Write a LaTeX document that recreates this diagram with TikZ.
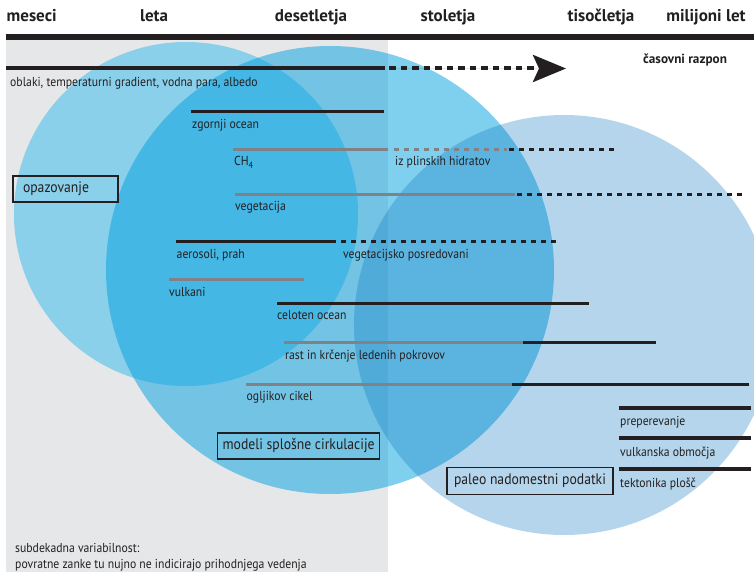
\documentclass[tikz,border=0pt]{standalone}
\usepackage{fontspec}
\setmainfont{PT Sans}
\newfontfamily\labfont[FakeStretch=0.9]{PT Sans}
\usetikzlibrary{arrows.meta}
\definecolor{bggray}{RGB}{230,231,232}
\definecolor{ink}{RGB}{35,31,32}
\definecolor{midgray}{RGB}{128,130,133}
\definecolor{cyanA}{RGB}{0,174,239}
\definecolor{cyanB}{RGB}{0,160,225}
\definecolor{blueC}{RGB}{8,118,192}
\begin{document}
\begin{tikzpicture}[x=1pt,y=-1pt,
  lab/.style={anchor=base west, inner sep=0pt, text=ink, font=\labfont\fontsize{13}{15}\selectfont},
  hdr/.style={anchor=base, inner sep=0pt, text=ink, font=\bfseries\fontsize{17}{20}\selectfont},
  boxlab/.style={draw=ink, line width=1.2pt, inner xsep=5pt, inner ysep=0pt, text=ink, font=\labfont\fontsize{15.2}{17}\selectfont},
  bar/.style={line width=3.5pt, draw=ink},
  gbar/.style={line width=3.5pt, draw=midgray},
  dbar/.style={line width=3.5pt, draw=ink, dash pattern=on 5pt off 5pt},
  gdbar/.style={line width=3.5pt, draw=midgray, dash pattern=on 5pt off 5pt},
  circA/.style={fill=cyanA, fill opacity=0.40},
  circB/.style={fill=cyanB, fill opacity=0.50},
  circC/.style={fill=blueC, fill opacity=0.30}
]
\useasboundingbox (0,0) rectangle (754,572);
% background
\fill[white] (0,0) rectangle (754,572);
\fill[bggray] (5.5,40) rectangle (388,572);
% circles
\fill[circA] (186,214) circle[radius=172pt];
\fill[circB] (330,270) circle[radius=224pt];
\fill[circC] (564,325) circle[radius=210pt];
% top axis
\coordinate (t0) at (5.5,37);
\coordinate (t1) at (754,37);
\draw[line width=6pt, ink] (t0) -- (t1);
% headers
\node[hdr, anchor=base west] (h1) at (6.5,22) {meseci};
\node[hdr] (h2) at (154,22) {leta};
\node[hdr] (h3) at (311,22) {desetletja};
\node[hdr] (h4) at (448,22) {stoletja};
\node[hdr] (h5) at (601,22) {tisočletja};
\node[hdr] (h6) at (706,22) {milijoni let};
\node[anchor=base west, inner sep=0pt, text=ink, font=\bfseries\fontsize{13.2}{15}\selectfont] (cr) at (643,64) {časovni razpon};
% row: oblaki
\coordinate (r1a) at (6,68.5);
\coordinate (r1b) at (385,68.5);
\coordinate (r1c) at (389,68.5);
\coordinate (r1d) at (566,68.5);
\draw[bar, line width=4pt] (r1a) -- (r1b);
\draw[line width=4pt, draw=ink, fill=ink, dash pattern=on 6.5pt off 5pt, -{Stealth[length=33pt,width=27pt,inset=6pt]}] (r1c) -- (r1d);
\node[lab] (l1) at (10,86.5) {oblaki, temperaturni gradient, vodna para, albedo};
% zgornji ocean
\coordinate (r2a) at (191,111.3);
\coordinate (r2b) at (384,111.3);
\draw[bar, line width=3pt] (r2a) -- (r2b);
\node[lab] (l2) at (192,128.5) {zgornji ocean};
% CH4
\coordinate (r3a) at (233,149.7);
\coordinate (r3b) at (388,149.7);
\coordinate (r3c) at (394,149.7);
\coordinate (r3d) at (507,149.7);
\coordinate (r3e) at (509,149.7);
\coordinate (r3f) at (618,149.7);
\draw[gbar] (r3a) -- (r3b);
\draw[gdbar] (r3c) -- (r3d);
\draw[dbar] (r3e) -- (r3f);
\node[lab] (l3) at (234,166) {CH\textsubscript{4}};
\node[lab] (l3b) at (395,165.5) {iz plinskih hidratov};
% vegetacija
\coordinate (r4a) at (235,194.7);
\coordinate (r4b) at (515,194.7);
\coordinate (r4c) at (517,194.7);
\coordinate (r4d) at (746,194.7);
\draw[gbar] (r4a) -- (r4b);
\draw[dbar] (r4c) -- (r4d);
\node[lab] (l4) at (235,210.5) {vegetacija};
% aerosoli
\coordinate (r5a) at (176,241.3);
\coordinate (r5b) at (336,241.3);
\coordinate (r5c) at (341,241.3);
\coordinate (r5d) at (557,241.3);
\draw[bar] (r5a) -- (r5b);
\draw[dbar] (r5c) -- (r5d);
\node[lab] (l5) at (176.5,258) {aerosoli, prah};
\node[lab] (l5b) at (343,258) {vegetacijsko posredovani};
% vulkani
\coordinate (r6a) at (169,279.7);
\coordinate (r6b) at (304,279.7);
\draw[gbar] (r6a) -- (r6b);
\node[lab] (l6) at (169,296) {vulkani};
% celoten ocean
\coordinate (r7a) at (277,303.3);
\coordinate (r7b) at (589,303.3);
\draw[bar] (r7a) -- (r7b);
\node[lab] (l7) at (277,319.5) {celoten ocean};
% rast in krcenje
\coordinate (r8a) at (284,342.6);
\coordinate (r8b) at (523,342.6);
\coordinate (r8c) at (656,342.6);
\draw[gbar] (r8a) -- (r8b);
\draw[bar] (r8b) -- (r8c);
\node[lab] (l8) at (285,359.5) {rast in krčenje ledenih pokrovov};
% ogljikov cikel
\coordinate (r9a) at (246,384.4);
\coordinate (r9b) at (512,384.4);
\coordinate (r9c) at (749,384.4);
\draw[gbar] (r9a) -- (r9b);
\draw[bar] (r9b) -- (r9c);
\node[lab] (l9) at (246.5,400.5) {ogljikov cikel};
% right rows
\coordinate (r10a) at (619,408);
\coordinate (r10b) at (751,408);
\draw[bar, line width=4.5pt] (r10a) -- (r10b);
\node[lab] (l10) at (620,425) {preperevanje};
\coordinate (r11a) at (619,438);
\coordinate (r11b) at (751,438);
\draw[bar] (r11a) -- (r11b);
\node[lab] (l11) at (620,456) {vulkanska območja};
\coordinate (r12a) at (619,469);
\coordinate (r12b) at (751,469);
\draw[bar, line width=4pt] (r12a) -- (r12b);
\node[lab] (l12) at (620,487) {tektonika plošč};
% boxes
\node[boxlab, inner xsep=10pt, minimum width=105pt, minimum height=26pt, text width=85pt, align=left] (opaz) at (65.5,189) {opazovanje};
\node[boxlab, minimum width=162pt, minimum height=26pt] (mod) at (298.6,446) {modeli splošne cirkulacije};
\node[boxlab, minimum width=166pt, minimum height=27pt] (pal) at (530,481) {paleo nadomestni podatki};
% bottom note
\node[lab] (n1) at (15,552) {subdekadna variabilnost:};
\node[lab] (n2) at (15,568) {povratne zanke tu nujno ne indicirajo prihodnjega vedenja};
\end{tikzpicture}
\end{document}
